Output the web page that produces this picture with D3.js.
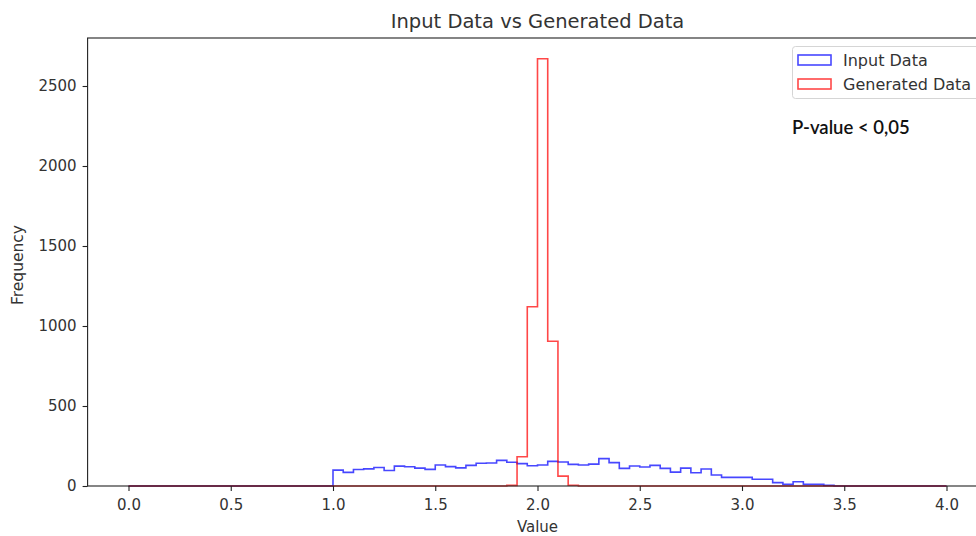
<!DOCTYPE html>
<html>
<head>
<meta charset="utf-8">
<script src="https://cdn.jsdelivr.net/npm/d3@7"></script>
<style>
  body { margin: 0; background: #fff; }
  svg { display: block; }
</style>
</head>
<body>
<svg id="chart" width="976" height="536"></svg>
<script>
// bins of 0.05 from 0.0 to 4.0 (80 bins), counts
var binStart = 0, binWidth = 0.05;

var inputCounts = [
  0, 0, 0, 0, 0, 0, 0, 0, 0, 0,
  0, 0, 0, 0, 0, 0, 0, 0, 0, 0,
  99, 85, 103, 107, 116, 97, 124, 120, 112, 104,
  131, 121, 113, 129, 142, 144, 160, 148, 140, 127,
  131, 154, 150, 135, 131, 137, 171, 146, 110, 125,
  119, 129, 110, 87, 112, 83, 106, 69, 54, 54,
  54, 42, 42, 21, 10, 27, 10, 10, 4, 0,
  0, 0, 0, 0, 0, 0, 0, 0, 0, 0
];

var generatedCounts = [
  0, 0, 0, 0, 0, 0, 0, 0, 0, 0,
  0, 0, 0, 0, 0, 0, 0, 0, 0, 0,
  0, 0, 0, 0, 0, 0, 0, 0, 0, 0,
  0, 0, 0, 0, 0, 0, 0, 4, 183, 1120,
  2670, 905, 62, 5, 0, 0, 0, 0, 0, 0,
  0, 0, 0, 0, 0, 0, 0, 0, 0, 0,
  0, 0, 0, 0, 0, 0, 0, 0, 0, 0,
  0, 0, 0, 0, 0, 0, 0, 0, 0, 0
];

var xTicks = [0, 0.5, 1, 1.5, 2, 2.5, 3, 3.5, 4];
var yTicks = [0, 500, 1000, 1500, 2000, 2500];
var seriesNames = ["Input Data", "Generated Data"];
var seriesColors = ["rgba(0,0,255,0.72)", "rgba(255,0,0,0.72)"];

var margin = {top: 38, left: 87.6, bottom: 486},
    plotRight = 987.4;

var svg = d3.select("#chart");

var x = d3.scaleLinear().domain([-0.2, 4.2]).range([margin.left, plotRight]);
var y = d3.scaleLinear().domain([0, 2800]).range([margin.bottom, margin.top]);

// step outline like matplotlib histtype='step'
function stepPoints(counts) {
  var pts = [[binStart, 0]];
  counts.forEach(function(c, i) {
    pts.push([binStart + i * binWidth, c]);
    pts.push([binStart + (i + 1) * binWidth, c]);
  });
  pts.push([binStart + counts.length * binWidth, 0]);
  return pts;
}

var line = d3.line()
  .x(function(d) { return x(d[0]); })
  .y(function(d) { return y(d[1]); });

[inputCounts, generatedCounts].forEach(function(counts, i) {
  svg.append("path")
    .attr("d", line(stepPoints(counts)))
    .attr("fill", "none")
    .attr("stroke", seriesColors[i])
    .attr("stroke-width", 1.6)
    .attr("stroke-linejoin", "miter");
});

// frame
svg.append("rect")
  .attr("x", margin.left).attr("y", margin.top)
  .attr("width", plotRight - margin.left)
  .attr("height", margin.bottom - margin.top)
  .attr("fill", "none")
  .attr("stroke", "#222")
  .attr("stroke-width", 1.1);

// axes
var xAxis = d3.axisBottom(x).tickValues(xTicks).tickFormat(d3.format(".1f")).tickSize(5).tickPadding(8);
var yAxis = d3.axisLeft(y).tickValues(yTicks).tickFormat(d3.format("d")).tickSize(5).tickPadding(6);

var gx = svg.append("g").attr("transform", "translate(0," + margin.bottom + ")").call(xAxis);
var gy = svg.append("g").attr("transform", "translate(" + margin.left + ",0)").call(yAxis);

[gx, gy].forEach(function(g) {
  g.select(".domain").remove();
  g.selectAll(".tick line").attr("stroke", "#222").attr("stroke-width", 1.1);
  g.selectAll(".tick text")
    .attr("fill", "#333")
    .style("font-family", "'DejaVu Sans', sans-serif")
    .style("font-size", "15px");
});

// title and axis labels
svg.append("text")
  .attr("x", (margin.left + plotRight) / 2).attr("y", 28)
  .attr("text-anchor", "middle")
  .attr("fill", "#333")
  .style("font-family", "'DejaVu Sans', sans-serif")
  .style("font-size", "19.5px")
  .text("Input Data vs Generated Data");

svg.append("text")
  .attr("x", (margin.left + plotRight) / 2).attr("y", 532)
  .attr("text-anchor", "middle")
  .attr("fill", "#333")
  .style("font-family", "'DejaVu Sans', sans-serif")
  .style("font-size", "15px")
  .text("Value");

svg.append("text")
  .attr("transform", "translate(23,265) rotate(-90)")
  .attr("text-anchor", "middle")
  .attr("fill", "#333")
  .style("font-family", "'DejaVu Sans', sans-serif")
  .style("font-size", "15.5px")
  .text("Frequency");

// legend
var legend = svg.append("g");
legend.append("rect")
  .attr("x", 792.5).attr("y", 46.5)
  .attr("width", 200).attr("height", 52)
  .attr("rx", 3)
  .attr("fill", "rgba(255,255,255,0.85)")
  .attr("stroke", "#d5d5d5");

seriesNames.forEach(function(name, i) {
  var ly = 55 + i * 24;
  legend.append("rect")
    .attr("x", 798).attr("y", ly)
    .attr("width", 33).attr("height", 10)
    .attr("fill", "none")
    .attr("stroke", seriesColors[i])
    .attr("stroke-width", 1.6);
  legend.append("text")
    .attr("x", 843).attr("y", ly + 10.5)
    .attr("fill", "#333")
    .style("font-family", "'DejaVu Sans', sans-serif")
    .style("font-size", "16px")
    .text(name);
});

svg.append("text")
  .attr("x", 792).attr("y", 134)
  .attr("fill", "#111")
  .style("font-family", "Lato, sans-serif")
  .style("font-weight", "600")
  .style("font-size", "18.5px")
  .text("P-value < 0,05");
</script>
</body>
</html>
